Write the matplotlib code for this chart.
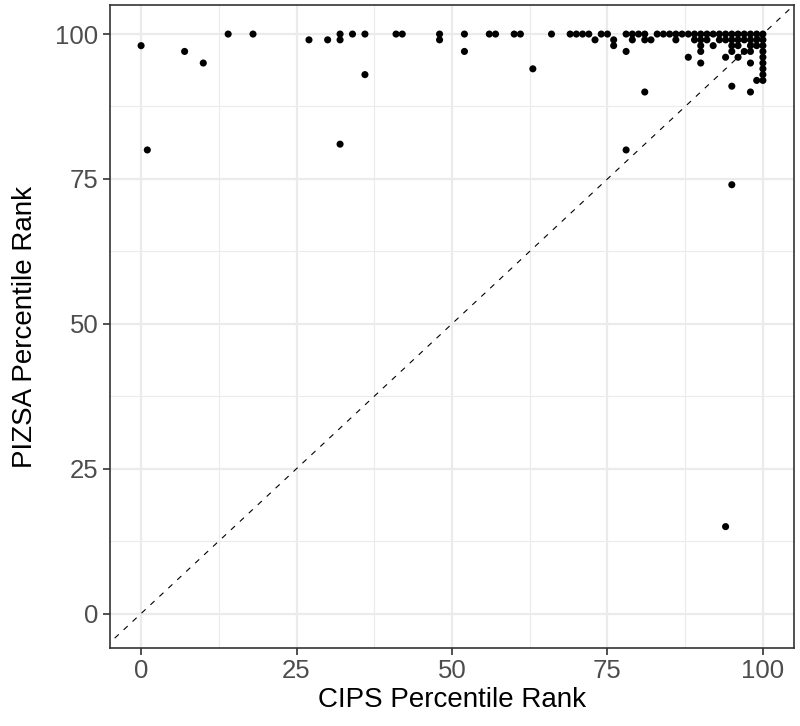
import matplotlib
matplotlib.use("Agg")
import matplotlib.pyplot as plt

plt.rcParams['font.family'] = ['Liberation Sans', 'DejaVu Sans']

# CIPS percentile rank (x) vs PIZSA percentile rank (y)
cips = [0, 1, 7, 10, 14, 18, 27, 30, 32, 32, 32, 34, 36, 36, 41, 42, 48, 48,
        52, 52, 56, 57, 60, 61, 63, 66, 69, 70, 71, 72, 73, 74, 75, 76, 76,
        78, 78, 78, 79, 79, 80, 81, 81, 81,
        82, 83, 84, 85, 86, 86, 87, 88, 88, 89, 89, 90, 90, 90, 90, 90,
        91, 91, 92, 92, 93, 93, 94, 94, 94, 94, 95, 95, 95, 95, 95, 95,
        96, 96, 96, 96, 97, 97, 97, 98, 98, 98, 98, 98, 98, 99, 99, 99, 99,
        100, 100, 100, 100, 100, 100, 100, 100, 100]
pizsa = [98, 80, 97, 95, 100, 100, 99, 99, 100, 99, 81, 100, 100, 93, 100, 100, 100, 99,
         100, 97, 100, 100, 100, 100, 94, 100, 100, 100, 100, 100, 99, 100, 100, 99, 98,
         100, 97, 80, 100, 99, 100, 100, 99, 90,
         99, 100, 100, 100, 100, 99, 100, 100, 96, 100, 99, 100, 98, 97, 95, 99,
         100, 99, 100, 98, 100, 99, 100, 99, 96, 15, 100, 99, 98, 97, 91, 74,
         100, 99, 98, 96, 100, 99, 97, 100, 99, 98, 97, 95, 90, 100, 99, 98, 92,
         100, 99, 98, 97, 96, 95, 94, 93, 92]

fig = plt.figure(figsize=(8.0, 7.26), dpi=100)
ax = fig.add_axes([0.1375, 0.107, 0.855, 0.886])

major = [0, 25, 50, 75, 100]
minor = [12.5, 37.5, 62.5, 87.5]
for v in major:
    ax.axvline(v, color='#ebebeb', lw=1.6, zorder=0)
    ax.axhline(v, color='#ebebeb', lw=1.6, zorder=0)
for v in minor:
    ax.axvline(v, color='#ebebeb', lw=0.8, zorder=0)
    ax.axhline(v, color='#ebebeb', lw=0.8, zorder=0)

ax.plot([-10, 110], [-10, 110], ls=(0, (5, 6)), color='black', lw=0.8, zorder=1)
ax.scatter(cips, pizsa, s=26, color='black', edgecolors='none', zorder=2)

ax.set_xlim(-5, 105)
ax.set_ylim(-6, 105)
ax.set_xticks(major)
ax.set_yticks(major)
ax.tick_params(length=5, width=1.2, color='#333333', labelcolor='#4d4d4d',
               labelsize=18.5)
ax.tick_params(axis='x', pad=2.5)
for s in ax.spines.values():
    s.set_color('#333333')
    s.set_linewidth(1.2)

ax.set_xlabel('CIPS Percentile Rank', fontsize=20, labelpad=3)
ax.set_ylabel('PIZSA Percentile Rank', fontsize=20, labelpad=12)

fig.savefig('out.png', dpi=100)
